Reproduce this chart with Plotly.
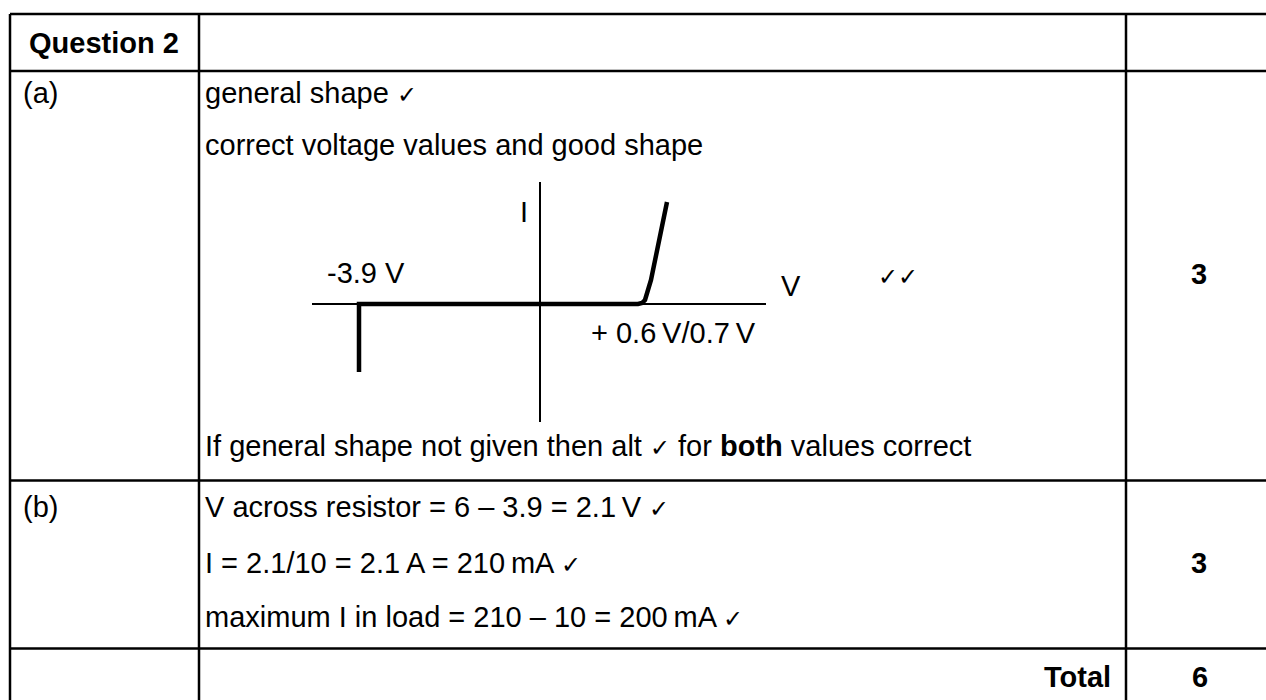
import plotly.graph_objects as go

CHK = '<span style="font-size:24px">\u2713</span>'

# table text
header_label = "Question 2"
part_labels = ["(a)", "(b)"]
part_a_lines = ["general shape " + CHK, "correct voltage values and good shape"]
part_a_footer = "If general shape not given then alt " + CHK + " for <b>both</b> values correct"
part_b_lines = [
    "V across resistor = 6 \u2013 3.9 = 2.1\u2009V " + CHK,
    "I = 2.1/10 = 2.1\u2009A = 210\u2009mA " + CHK,
    "maximum I in load = 210 \u2013 10 = 200\u2009mA " + CHK,
]
marks = ["3", "3"]
total_label = "Total"
total_marks = "6"

# diode sketch (sketch units, origin at the axes crossing)
curve_v = [-181, -181, 98, 102, 105, 107, 111, 127]
curve_i = [-68, 0, 0, 1, 4, 10, 24, 102]
sketch_labels = ["I", "-3.9 V", "V", "+ 0.6\u2009V/0.7\u2009V", CHK + CHK]

W, H = 1266, 700
FONT = "Arial, Liberation Sans, sans-serif"
FS = 29

fig = go.Figure()

fig.add_trace(go.Scatter(
    x=curve_v, y=curve_i, mode="lines",
    line=dict(color="black", width=4.5),
    xaxis="x2", yaxis="y2", hoverinfo="skip", showlegend=False,
))

# table grid (right and bottom edges fall just outside the frame)
col_x = [10, 199, 1126, 1272]
row_y = [14, 71, 480.5, 648.5, 706]
for x in col_x:
    fig.add_shape(type="line", x0=x, x1=x, y0=row_y[0], y1=row_y[-1],
                  line=dict(color="black", width=2.5), xref="x", yref="y")
for y in row_y:
    fig.add_shape(type="line", x0=col_x[0], x1=col_x[-1], y0=y, y1=y,
                  line=dict(color="black", width=2.5), xref="x", yref="y")


def txt(x, y, s, anchor="left", bold=False, size=FS):
    fig.add_annotation(
        x=x, y=y, xref="x", yref="y", text=f"<b>{s}</b>" if bold else s,
        showarrow=False, xanchor=anchor, yanchor="middle",
        font=dict(family=FONT, size=size, color="black"),
    )


txt(27, 43, header_label, bold=True)
txt(21, 93, part_labels[0])
txt(21, 507, part_labels[1])

for s, y in zip(part_a_lines, [93, 145]):
    txt(203, y, s)
txt(203, 446, part_a_footer)
for s, y in zip(part_b_lines, [507, 563, 617]):
    txt(203, y, s)

txt(1199, 274, marks[0], anchor="center", bold=True)
txt(1199, 563, marks[1], anchor="center", bold=True)
txt(1113, 677, total_label, anchor="right", bold=True)
txt(1200, 677, total_marks, anchor="center", bold=True)

# sketch labels
txt(518, 212, sketch_labels[0])
txt(325, 273, sketch_labels[1])
txt(779, 286, sketch_labels[2])
txt(589, 333, sketch_labels[3])
txt(876, 276, sketch_labels[4])

hidden = dict(visible=False, showgrid=False, zeroline=False, fixedrange=True)
fig.update_layout(
    width=W, height=H, autosize=False,
    margin=dict(l=0, r=0, t=0, b=0),
    paper_bgcolor="white", plot_bgcolor="rgba(0,0,0,0)",
    showlegend=False,
    xaxis=dict(range=[0, W], domain=[0, 1], **hidden),
    yaxis=dict(range=[H, 0], domain=[0, 1], **hidden),
    xaxis2=dict(range=[-228, 226], domain=[312 / W, 766 / W], anchor="y2",
                showgrid=False, showticklabels=False, ticks="", showline=False,
                zeroline=True, zerolinecolor="black", zerolinewidth=2, fixedrange=True),
    yaxis2=dict(range=[-118, 122], domain=[(H - 422) / H, (H - 182) / H], anchor="x2",
                showgrid=False, showticklabels=False, ticks="", showline=False,
                zeroline=True, zerolinecolor="black", zerolinewidth=2, fixedrange=True),
)

# page body margin would shift the figure by 8px
fig.write_html("out.html", config={"displayModeBar": False},
               post_script="document.body.style.margin='0';")
